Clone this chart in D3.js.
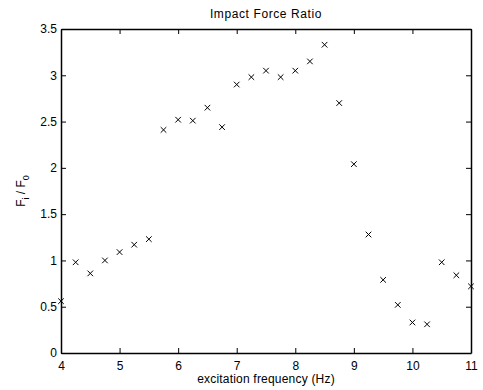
<!DOCTYPE html>
<html>
<head>
<meta charset="utf-8">
<script src="https://cdn.jsdelivr.net/npm/d3@7"></script>
<style>
    body { margin: 0; background: #fff; }
    text { font-family: "Liberation Sans", Arial, sans-serif; fill: #000; }
</style>
</head>
<body>
<div id="svg-container"></div>
<script>
const w = 483;
const h = 390;
const margin = {top: 29, right: 12, bottom: 37, left: 61};

const freq = [4, 4.25, 4.5, 4.75, 5, 5.25, 5.5, 5.75, 6, 6.25, 6.5, 6.75, 7, 7.25, 7.5,
    7.75, 8, 8.25, 8.5, 8.75, 9, 9.25, 9.5, 9.75, 10, 10.25, 10.5, 10.75, 11];
const ratio = [0.56, 0.98, 0.86, 1.0, 1.09, 1.17, 1.23, 2.41, 2.52, 2.51, 2.65, 2.44, 2.9, 2.98, 3.05,
    2.98, 3.05, 3.15, 3.33, 2.7, 2.04, 1.28, 0.79, 0.52, 0.33, 0.31, 0.98, 0.84, 0.72];
const xTicks = [4, 5, 6, 7, 8, 9, 10, 11];
const yTicks = [0, 0.5, 1, 1.5, 2, 2.5, 3, 3.5];

const svg = d3.select("#svg-container")
    .append("svg")
    .attr("width", w)
    .attr("height", h);

const x = d3.scaleLinear().domain([4, 11]).range([margin.left, w - margin.right]);
const y = d3.scaleLinear().domain([0, 3.5]).range([h - margin.bottom, margin.top]);
const fmt = d3.format("~g");

// axes, MATLAB style: ticks inward on all four sides
const tickLen = 5;
svg.append("g")
    .attr("transform", `translate(0,${y(0)})`)
    .call(d3.axisBottom(x).tickValues(xTicks).tickFormat(fmt).tickSizeInner(-tickLen).tickSizeOuter(0).tickPadding(8))
    .call(g => g.selectAll("text").attr("font-size", "12px"));
svg.append("g")
    .attr("transform", `translate(0,${y(3.5)})`)
    .call(d3.axisTop(x).tickValues(xTicks).tickSizeInner(-tickLen).tickSizeOuter(0).tickFormat(""));
svg.append("g")
    .attr("transform", `translate(${x(4)},0)`)
    .call(d3.axisLeft(y).tickValues(yTicks).tickFormat(fmt).tickSizeInner(-tickLen).tickSizeOuter(0).tickPadding(4))
    .call(g => g.selectAll("text").attr("font-size", "12px"));
svg.append("g")
    .attr("transform", `translate(${x(11)},0)`)
    .call(d3.axisRight(y).tickValues(yTicks).tickSizeInner(-tickLen).tickSizeOuter(0).tickFormat(""));

svg.selectAll(".domain").attr("stroke", "#000").attr("stroke-width", 1.5);
svg.selectAll(".tick line").attr("stroke", "#000");

// points drawn as "x" markers
const s = 2.8;
svg.append("g")
    .selectAll("path")
    .data(freq)
    .enter()
    .append("path")
    .attr("d", function (d, i) {
        const px = x(d), py = y(ratio[i]);
        return `M${px - s},${py - s}L${px + s},${py + s}M${px - s},${py + s}L${px + s},${py - s}`;
    })
    .attr("stroke", "#000")
    .attr("stroke-width", 1)
    .attr("fill", "none");

// title and labels
svg.append("text")
    .attr("x", (x(4) + x(11)) / 2)
    .attr("y", 18)
    .attr("text-anchor", "middle")
    .attr("font-size", "12px")
    .attr("letter-spacing", "0.6px")
    .text("Impact Force Ratio");

svg.append("text")
    .attr("x", (x(4) + x(11)) / 2)
    .attr("y", 383)
    .attr("text-anchor", "middle")
    .attr("font-size", "12px")
    .attr("letter-spacing", "0.2px")
    .text("excitation frequency (Hz)");

const yl = svg.append("text")
    .attr("transform", `translate(25,${(y(0) + y(3.5)) / 2}) rotate(-90)`)
    .attr("text-anchor", "middle")
    .attr("font-size", "12px");
yl.append("tspan").text("F");
yl.append("tspan").attr("dy", 4).attr("font-size", "9px").text("i");
yl.append("tspan").attr("dy", -4).text(" / F");
yl.append("tspan").attr("dy", 4).attr("font-size", "9px").text("0");
</script>
</body>
</html>
